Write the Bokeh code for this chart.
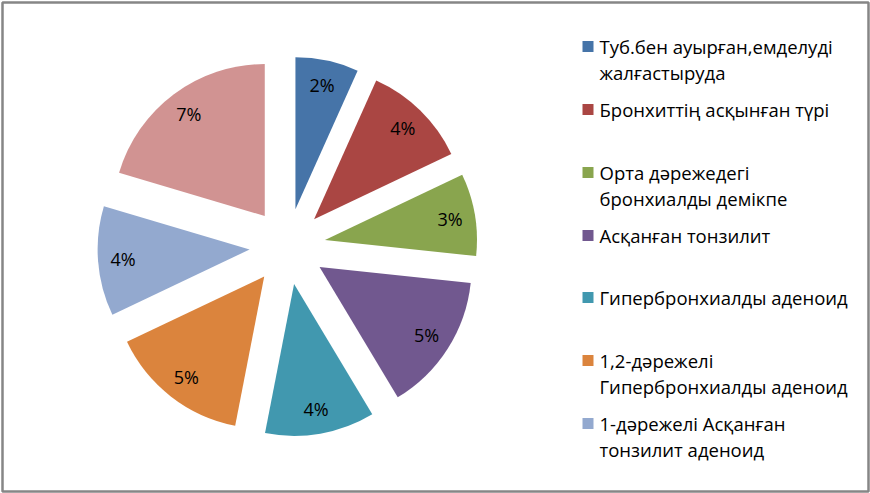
import numpy as np
from bokeh.plotting import figure
from bokeh.models import Range1d
from bokeh.core.properties import value
from bokeh.embed import file_html
from bokeh.resources import INLINE

# Data
categories = [
    "Туб.бен ауырған,емделуді жалғастыруда",
    "Бронхиттің асқынған түрі",
    "Орта дәрежедегі бронхиалды демікпе",
    "Асқанған тонзилит",
    "Гипербронхиалды аденоид",
    "1,2-дәрежелі Гипербронхиалды аденоид",
    "1-дәрежелі Асқанған тонзилит аденоид",
    "",
]
values = [2.3, 3.85, 3.0, 5.05, 4.0, 5.1, 4.0, 7.0]
labels = ["2%", "4%", "3%", "5%", "4%", "5%", "4%", "7%"]
legend_lines = [
    ["Туб.бен ауырған,емделуді", "жалғастыруда"],
    ["Бронхиттің асқынған түрі"],
    ["Орта дәрежедегі", "бронхиалды демікпе"],
    ["Асқанған тонзилит"],
    ["Гипербронхиалды аденоид"],
    ["1,2-дәрежелі", "Гипербронхиалды аденоид"],
    ["1-дәрежелі Асқанған", "тонзилит аденоид"],
]
colors = ["#4674A8", "#AA4643", "#89A54E", "#71588F", "#4198AF", "#DB843D", "#93A9CF", "#D19392"]

W, H = 870, 493
p = figure(width=W, height=H, x_range=Range1d(0, W), y_range=Range1d(0, H),
           output_backend="svg", toolbar_location=None, min_border=0)
p.axis.visible = False
p.grid.visible = False
p.outline_line_color = None
p.background_fill_color = "white"
p.border_fill_color = "white"

# Pie geometry
cx, cy = 287.0, H - 246.0
R = 152
explode = 38.0
vals = np.array(values)
fr = vals / vals.sum() * 2 * np.pi
cum_end = np.cumsum(fr)
cum_start = cum_end - fr
mid = (cum_start + cum_end) / 2  # clockwise from top
xs = cx + explode * np.sin(mid)
ys = cy + explode * np.cos(mid)
start = np.pi / 2 - cum_start
end = np.pi / 2 - cum_end

p.wedge(x=xs, y=ys, radius=R, radius_units="screen", start_angle=start, end_angle=end,
        direction="clock", fill_color=colors, line_color=None)

lr = 127.0
lx = xs + lr * np.sin(mid)
ly = ys + lr * np.cos(mid)
p.text(x=lx, y=ly, text=labels, text_align="center", text_baseline="middle",
       text_font=value("Open Sans"), text_font_size="18px", text_color="#000000")

# Legend
entry_y = [46, 109, 172, 235, 297, 360, 423]
line_gap = 25.5
sq_x = 587.5
tx = 599
for i, lines in enumerate(legend_lines):
    y0 = H - entry_y[i]
    p.rect(x=[sq_x], y=[y0], width=11, height=11, width_units="screen", height_units="screen",
           fill_color=colors[i], line_color=None)
    ty = [y0 - k * line_gap for k in range(len(lines))]
    p.text(x=[tx] * len(lines), y=ty, text=lines, text_align="left", text_baseline="middle",
           text_font=value("Open Sans"), text_font_size="18.5px", text_color="#000000")

# Chart border
p.rect(x=[W / 2], y=[H / 2], width=W - 4, height=H - 4, fill_color=None,
       line_color="#868686", line_width=2.5)

open("out.html", "w").write(file_html(p, INLINE))
